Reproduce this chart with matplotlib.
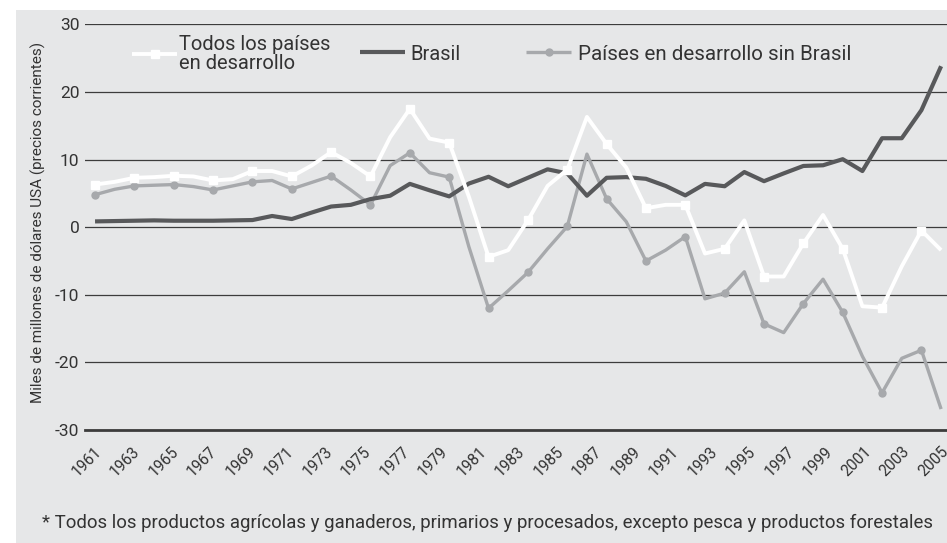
import matplotlib
matplotlib.use("Agg")
import matplotlib.pyplot as plt
from matplotlib.patches import Rectangle

plt.rcParams['font.family'] = ['Roboto', 'DejaVu Sans']

# datos 1961-2004, miles de millones de USD
years = list(range(1961, 2005))
todos = [6.3, 6.7, 7.3, 7.4, 7.6, 7.5, 6.9, 7.1, 8.3, 8.3,
         7.5, 9.1, 11.1, 9.5, 7.5, 13.3, 17.5, 13.1, 12.5, 4.5,
         -4.4, -3.4, 1.0, 6.1, 8.5, 16.3, 12.3, 8.8, 2.8, 3.3,
         3.3, -3.9, -3.2, 1.0, -7.3, -7.3, -2.4, 1.8, -3.2, -11.7,
         -11.9, -5.8, -0.5, -3.4]
brasil = [0.85, 0.9, 0.95, 1.0, 0.95, 0.95, 0.95, 1.0, 1.05, 1.65,
          1.2, 2.15, 3.05, 3.3, 4.15, 4.65, 6.4, 5.45, 4.55, 6.45,
          7.45, 6.05, 7.3, 8.55, 7.95, 4.65, 7.3, 7.4, 7.15, 6.1,
          4.7, 6.4, 6.05, 8.15, 6.8, 7.95, 9.05, 9.15, 10.05, 8.3,
          13.15, 13.15, 17.3, 23.8]
sin_brasil = [4.8, 5.6, 6.1, 6.2, 6.3, 6.0, 5.5, 6.1, 6.7, 6.9,
              5.65, 6.6, 7.55, 5.5, 3.3, 9.1, 11.0, 8.05, 7.4, -2.9,
              -12.0, -9.4, -6.7, -3.2, 0.1, 10.8, 4.2, 0.8, -5.0, -3.4,
              -1.4, -10.6, -9.75, -6.6, -14.3, -15.6, -11.3, -7.7, -12.6, -19.1,
              -24.5, -19.4, -18.2, -26.9]

tick_years = list(range(1961, 2006, 2))
y_ticks = [-30, -20, -10, 0, 10, 20, 30]
y_labels = ['-30', '-20', '-10', '0', '10', '20', '30']

BG = '#e6e7e8'
GRID = '#3c3c3c'
TXT = '#333333'

W, H = 947, 543
fig = plt.figure(figsize=(W / 100, H / 100), dpi=100)
fig.patch.set_facecolor('white')
fig.add_artist(Rectangle((16 / W, 0), 1, (H - 10) / H, transform=fig.transFigure,
                         facecolor=BG, edgecolor='none', zorder=-10))

ax = fig.add_axes([85 / W, (H - 430) / H, 862 / W, (430 - 24.3) / H])
ax.set_facecolor('none')
ax.set_xlim(1960.49, 2004.3)
ax.set_ylim(-30, 30)

l3, = ax.plot(years, sin_brasil, color='#a7a9ac', lw=2.4, marker='o', ms=5,
              markevery=2, solid_capstyle='butt', zorder=3)
l2, = ax.plot(years, brasil, color='#58595b', lw=3.0, solid_capstyle='butt', zorder=4)
l1, = ax.plot(years, todos, color='white', lw=2.8, marker='s', ms=6,
              markevery=2, solid_capstyle='butt', zorder=5)

ax.set_yticks(y_ticks, y_labels)
ax.yaxis.grid(True, color=GRID, lw=0.9)
ax.set_axisbelow(True)
ax.axhline(-30, color=GRID, lw=2, clip_on=False, zorder=2)
for s in ax.spines.values():
    s.set_visible(False)
ax.tick_params(axis='y', length=0, pad=4, labelsize=12.5, labelcolor=TXT)

# etiquetas del eje x algo más juntas que los datos
tick_pos = [1961.2 + (t - 1961) * 19.24 / 19.67 for t in tick_years]
ax.set_xticks(tick_pos, [str(t) for t in tick_years])
ax.tick_params(axis='x', length=0, pad=14, labelsize=11.2, labelcolor=TXT)
for lab in ax.get_xticklabels():
    lab.set_rotation(45)
    lab.set_ha('right')
    lab.set_va('center')
    lab.set_rotation_mode('anchor')

fig.text(38 / W, 1 - 222 / H, 'Miles de millones de dólares USA (precios corrientes)',
         rotation=90, ha='center', va='center', fontsize=11, color=TXT)

fs = 14.5
leg1 = fig.legend([l1], ['Todos los países\nen desarrollo'], loc='center left',
                  bbox_to_anchor=(132 / W, 1 - 54 / H), frameon=False, fontsize=fs,
                  handlelength=2.24, handletextpad=0.1, borderpad=0, borderaxespad=0,
                  labelcolor=TXT)
leg1.get_texts()[0].set_linespacing(1.0)
leg2 = fig.legend([l2], ['Brasil'], loc='center left',
                  bbox_to_anchor=(360 / W, 1 - 54 / H), frameon=False, fontsize=fs,
                  handlelength=2.24, handletextpad=0.25, borderpad=0, borderaxespad=0,
                  labelcolor=TXT)
leg3 = fig.legend([l3], ['Países en desarrollo sin Brasil'], loc='center left',
                  bbox_to_anchor=(526 / W, 1 - 54 / H), frameon=False, fontsize=14.8,
                  handlelength=2.2, handletextpad=0.35, borderpad=0, borderaxespad=0,
                  labelcolor=TXT)

fig.text(487 / W, 1 - 523 / H,
         '* Todos los productos agrícolas y ganaderos, primarios y procesados, '
         'excepto pesca y productos forestales',
         ha='center', va='center', fontsize=13.4, color=TXT)

fig.savefig('out.png', dpi=100)
